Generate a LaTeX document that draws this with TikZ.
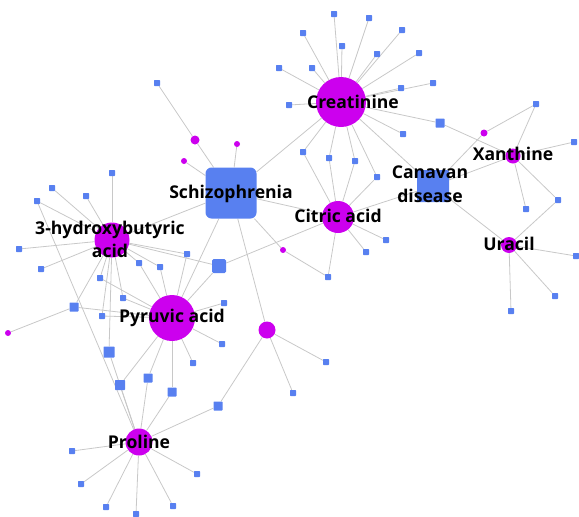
\documentclass[tikz,border=0pt]{standalone}
\usepackage{fontspec}
\newfontfamily\lblfont{Open Sans}
\usetikzlibrary{backgrounds}
\definecolor{nodeblue}{RGB}{88,128,240}
\definecolor{nodemag}{RGB}{204,0,238}
\definecolor{edgegray}{RGB}{200,200,200}
\tikzset{
  sq/.style={rectangle, fill=nodeblue, inner sep=0pt, minimum size=#1, rounded corners=0.7pt},
  sq/.default=6pt,
  mc/.style={circle, fill=nodemag, inner sep=0pt, minimum size=#1},
  edge/.style={draw=edgegray, line width=0.8pt},
  lbl/.style={font=\lblfont\bfseries\fontsize{17.6}{20}\selectfont, text=black, inner sep=0pt, anchor=base}
}
\begin{document}
\begin{tikzpicture}[x=1pt,y=-1pt]
\useasboundingbox (0,0) rectangle (579,517);
% main nodes
\node[mc=50pt] (creat) at (341,102) {};
\node[sq=51pt, rounded corners=6pt] (schiz) at (231,193) {};
\node[mc=32pt] (citric) at (338,217) {};
\node[sq=32pt, rounded corners=2pt] (canav) at (433,186) {};
\node[mc=15pt] (xan) at (513,156) {};
\node[mc=16pt] (ura) at (509,245) {};
\node[mc=35pt] (hb) at (112,240) {};
\node[mc=46pt] (pyr) at (172,318) {};
\node[mc=27pt] (pro) at (139,442) {};
\node[mc=17pt] (m1) at (267,330) {};
\node[mc=9pt] (m2) at (195,140) {};
\node[mc=6pt] (m3) at (237,144) {};
\node[mc=6pt] (m4) at (184,161) {};
\node[mc=6pt] (m5) at (283,250) {};
\node[mc=6pt] (m6) at (8,333) {};
\node[mc=7pt] (m7) at (484,133) {};
% creatinine neighbours
\node[sq] (c1) at (334,14) {};
\node[sq] (c2) at (369,18) {};
\node[sq] (c3) at (303,33) {};
\node[sq] (c4) at (402,30) {};
\node[sq] (c5) at (342,46) {};
\node[sq] (c6) at (377,54) {};
\node[sq] (c7) at (419,53) {};
\node[sq] (c8) at (279,68) {};
\node[sq] (c9) at (312,68) {};
\node[sq] (c10) at (401,88) {};
\node[sq] (c11) at (433,83) {};
\node[sq] (c12) at (289,105) {};
\node[sq] (c13) at (403,134) {};
\node[sq] (cc1) at (303,152) {};
\node[sq] (cc2) at (329,158) {};
\node[sq] (cc3) at (355,161) {};
\node[sq] (cc4) at (377,177) {};
\node[sq=9pt] (cx) at (440,123) {};
% citric
\node[sq] (ct1) at (386,240) {};
\node[sq] (ct2) at (366,252) {};
\node[sq] (ct3) at (328,277) {};
\node[sq=14pt, rounded corners=1.5pt] (b1) at (219,266) {};
% schizophrenia
\node[sq] (s1) at (157,83) {};
% xanthine / uracil
\node[sq] (x1) at (536,104) {};
\node[sq] (x2) at (574,142) {};
\node[sq] (x3) at (526,209) {};
\node[sq] (x4) at (558,200) {};
\node[sq] (u1) at (576,256) {};
\node[sq] (u2) at (555,296) {};
\node[sq] (u3) at (511,311) {};
% 3-hydroxybutyric acid
\node[sq] (h1) at (112,173) {};
\node[sq] (h2) at (52,188) {};
\node[sq] (h3) at (86,196) {};
\node[sq] (h4) at (37,201) {};
\node[sq] (h5) at (19,249) {};
\node[sq] (h6) at (41,269) {};
\node[sq] (hp1) at (100,278) {};
\node[sq] (hp2) at (139,263) {};
\node[sq] (hp3) at (160,267) {};
\node[sq] (hp4) at (187,254) {};
\node[sq] (hp5) at (123,298) {};
\node[sq=9pt] (hp6) at (74,307) {};
\node[sq] (hp7) at (102,316) {};
\node[sq=11pt] (hpr) at (109,352) {};
% pyruvic
\node[sq] (p1) at (224,303) {};
\node[sq] (p2) at (222,344) {};
\node[sq] (p3) at (193,363) {};
\node[sq=10pt] (pp1) at (120,385) {};
\node[sq=9pt] (pp2) at (148,378) {};
\node[sq=9pt] (pp3) at (172,392) {};
\node[sq=9pt] (pm) at (218,406) {};
% proline
\node[sq] (r1) at (72,451) {};
\node[sq] (r2) at (81,484) {};
\node[sq] (r3) at (106,507) {};
\node[sq] (r4) at (136,514) {};
\node[sq] (r5) at (173,506) {};
\node[sq] (r6) at (197,474) {};
% m1
\node[sq] (m1a) at (326,362) {};
\node[sq] (m1b) at (293,393) {};
% edges
\begin{pgfonlayer}{background}
\foreach \a/\b in {creat/c1,creat/c2,creat/c3,creat/c4,creat/c5,creat/c6,creat/c7,creat/c8,creat/c9,creat/c10,creat/c11,creat/c12,creat/c13,
  creat/cc1,creat/cc2,creat/cc3,creat/cc4,creat/cx,creat/schiz,creat/canav,
  citric/cc1,citric/cc2,citric/cc3,citric/cc4,citric/ct1,citric/ct2,citric/ct3,citric/b1,citric/schiz,citric/canav,
  schiz/m2,schiz/m3,schiz/m4,schiz/m5,schiz/m1,schiz/hb,schiz/pyr,m2/s1,m5/ct3,
  canav/xan,canav/ura,canav/m7,m7/x1,cx/xan,xan/x1,xan/x2,xan/x3,xan/x4,ura/x4,ura/u1,ura/u2,ura/u3,
  hb/h1,hb/h2,hb/h3,hb/h4,hb/h5,hb/h6,hb/hp1,hb/hp2,hb/hp3,hb/hp4,hb/hp5,hb/hp6,hb/hp7,hb/hpr,hb/b1,
  pyr/hp1,pyr/hp2,pyr/hp3,pyr/hp4,pyr/hp5,pyr/hp6,pyr/hp7,pyr/p1,pyr/p2,pyr/p3,pyr/pp1,pyr/pp2,pyr/pp3,pyr/b1,
  hp6/m6,pro/hpr,pro/pp1,pro/pp2,pro/pp3,pro/pm,pro/r1,pro/r2,pro/r3,pro/r4,pro/r5,pro/r6,pro/h4,
  m1/pm,m1/m1a,m1/m1b}
  \draw[edge] (\a) -- (\b);
\end{pgfonlayer}
% labels
\node[lbl] (lcreat) at (353,108) {Creatinine};
\node[lbl] (lschiz) at (231,198) {Schizophrenia};
\node[lbl] (lcitric) at (338,222) {Citric acid};
\node[lbl] (lcanav1) at (430,178) {Canavan};
\node[lbl] (lcanav2) at (430,202) {disease};
\node[lbl] (lxan) at (513,160) {Xanthine};
\node[lbl] (lura) at (509,250) {Uracil};
\node[lbl] (lhb1) at (110,234) {3-hydroxybutyric};
\node[lbl] (lhb2) at (110,257) {acid};
\node[lbl] (lpyr) at (172,322) {Pyruvic acid};
\node[lbl] (lpro) at (139,448) {Proline};
\end{tikzpicture}
\end{document}
